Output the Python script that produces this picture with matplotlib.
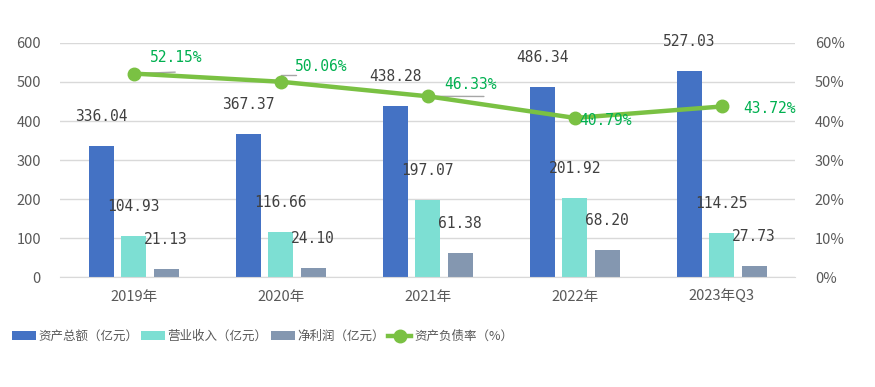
import matplotlib.pyplot as plt
import numpy as np

plt.rcParams['font.family'] = ['Noto Sans CJK SC', 'DejaVu Sans']

years = ['2019年', '2020年', '2021年', '2022年', '2023年Q3']
assets = [336.04, 367.37, 438.28, 486.34, 527.03]
revenue = [104.93, 116.66, 197.07, 201.92, 114.25]
profit = [21.13, 24.10, 61.38, 68.20, 27.73]
debt_ratio = [52.15, 50.06, 46.33, 40.79, 43.72]

c_blue = '#4472C4'
c_teal = '#7DDFD3'
c_gray = '#8497B0'
c_green = '#7AC143'
c_text = '#595959'
c_pct = '#00B050'
num_font = ['DejaVu Sans Mono']

fig = plt.figure(figsize=(8.75, 3.87), dpi=100)
ax = fig.add_axes([0.069, 0.284, 0.84, 0.605])
ax2 = ax.twinx()

x = np.arange(len(years))
w = 0.17
step = 0.22
b1 = ax.bar(x - step, assets, w, color=c_blue, label='资产总额（亿元）', zorder=2)
b2 = ax.bar(x, revenue, w, color=c_teal, label='营业收入（亿元）', zorder=2)
b3 = ax.bar(x + step, profit, w, color=c_gray, label='净利润（亿元）', zorder=2)

for bars in (b1, b2, b3):
    for r in bars:
        ax.annotate(f'{r.get_height():.2f}', (r.get_x() + r.get_width() / 2, r.get_height()),
                    xytext=(0, 22), textcoords='offset pixels', ha='center', va='bottom',
                    fontsize=10.5, color='#404040', family=num_font)

ax.set_ylim(0, 600)
ax.set_yticks(range(0, 601, 100))
ax.set_xlim(-0.5, len(years) - 0.5)
ax.set_xticks(x, years)
ax.grid(axis='y', color='#D9D9D9', linewidth=1, zorder=0)
ax.set_axisbelow(True)

ln, = ax2.plot(x, debt_ratio, color=c_green, linewidth=3.2, marker='o', markersize=9,
               label='资产负债率（%）', zorder=5)
ax2.set_ylim(0, 60)
ax2.set_yticks(range(0, 61, 10))
ax2.set_yticklabels([f'{v}%' for v in range(0, 61, 10)])

# leader lines for the first three percentage labels
ax2.annotate('', (x[0], debt_ratio[0]), xytext=(x[0] + 0.3, debt_ratio[0] + 0.4),
             arrowprops=dict(arrowstyle='-', color='#A6A6A6', lw=1), zorder=4)
ax2.annotate('', (x[1], debt_ratio[1]), xytext=(x[1] + 0.12, debt_ratio[1] + 1.8),
             arrowprops=dict(arrowstyle='-', color='#A6A6A6', lw=1,
                             connectionstyle='angle,angleA=0,angleB=90,rad=0'), zorder=4)
ax2.annotate('', (x[2], debt_ratio[2]), xytext=(x[2] + 0.4, debt_ratio[2] - 0.05),
             arrowprops=dict(arrowstyle='-', color='#A6A6A6', lw=1), zorder=4)

offsets = [(42, 16), (40, 15), (43, 12), (31, -3), (48, -2)]
for xi, v, off in zip(x, debt_ratio, offsets):
    ax2.annotate(f'{v:.2f}%', (xi, v), xytext=off, textcoords='offset pixels',
                 ha='center', va='center', fontsize=10.5, color=c_pct, zorder=6,
                 family=num_font)

for a in (ax, ax2):
    for s in a.spines.values():
        s.set_visible(False)
    a.tick_params(length=0, labelsize=10.5, colors=c_text)
ax.spines['bottom'].set_visible(True)
ax.spines['bottom'].set_color('#D9D9D9')
ax.tick_params(axis='x', pad=9)
ax.tick_params(axis='y', pad=14)
ax2.tick_params(axis='y', pad=14)

handles = [b1, b2, b3, ln]
fig.legend(handles, [h.get_label() for h in handles], loc='center', bbox_to_anchor=(0.30, 0.13),
           ncol=4, frameon=False, fontsize=9, handlelength=1.9, columnspacing=0.25,
           handletextpad=0.2, labelcolor=c_text)

plt.savefig('out.png', dpi=100)
